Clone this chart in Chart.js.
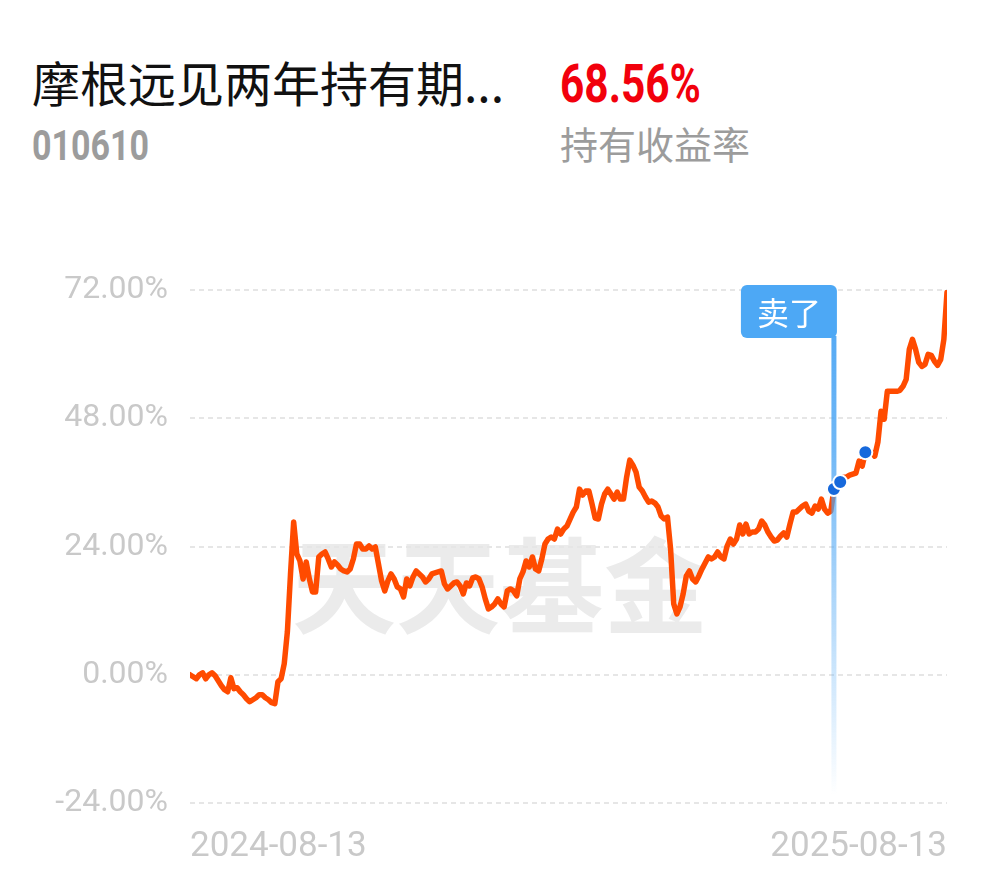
<!DOCTYPE html>
<html>
<head>
<meta charset="utf-8">
<script src="https://cdn.jsdelivr.net/npm/chart.js@4.4.1/dist/chart.umd.min.js"></script>
<style>
  body { margin: 0; background: #fff; width: 990px; height: 878px; overflow: hidden; position: relative; }
  .t { position: absolute; white-space: nowrap; }
  #name { left: 32px; top: 57px; font: 48px/48px "Noto Sans CJK SC"; color: #111; }
  #rate { left: 560px; top: 58px; font: bold 53px/53px Roboto; color: #f2000c; transform: scaleX(0.8); transform-origin: left top; }
  #code { left: 32px; top: 125px; font: bold 42px/42px Roboto; color: #9c9c9c; transform: scaleX(0.81); transform-origin: left top; }
  #rateLabel { left: 560px; top: 124px; font: 38px/38px "Noto Sans CJK SC"; color: #9c9c9c; }
  #chart { position: absolute; left: 0; top: 0; }
</style>
</head>
<body>
<div class="t" id="name">摩根远见两年持有期...</div>
<div class="t" id="rate">68.56%</div>
<div class="t" id="code">010610</div>
<div class="t" id="rateLabel">持有收益率</div>
<canvas id="chart" width="990" height="878"></canvas>
<script>
// holding return (%) per trading day, 2024-08-13 .. 2025-08
const returns = [
  0, -0.37, -0.75, 0, 0.37, -0.75, 0, 0.37, -0.19, -1.12,
  -2.05, -2.8, -3.18, -0.56, -2.61, -2.43, -3.18, -3.74, -4.48, -5.04,
  -4.67, -4.3, -3.74, -3.74, -4.3, -4.67, -5.23, -5.42, -1.31, -0.75,
  2.05, 8.03, 18.86, 28.58, 22.6, 21.29, 17.93, 21.11, 17.93, 15.5,
  15.5, 22.04, 22.6, 22.97, 21.67, 20.17, 21.11, 20.55, 19.8, 19.42,
  19.24, 19.8, 21.67, 24.47, 24.47, 23.53, 23.53, 24.09, 23.53, 23.91,
  20.73, 17.56, 15.69, 17.56, 18.86, 17.93, 16.44, 16.06, 14.57, 17.93,
  16.62, 18.3, 19.42, 18.86, 18.3, 17.37, 17.93, 18.86, 19.05, 19.24,
  19.42, 17.0, 16.06, 16.62, 17.18, 17.37, 16.62, 15.13, 17.18, 16.62,
  18.12, 18.3, 17.93, 16.44, 14.2, 12.33, 12.7, 13.26, 14.2, 13.26,
  12.7, 15.69, 16.06, 15.69, 14.76, 17.93, 19.24, 21.29, 20.17, 22.04,
  19.8, 19.42, 21.67, 24.47, 25.4, 25.78, 25.4, 27.27, 26.34, 27.27,
  27.83, 29.14, 30.44, 31.38, 34.74, 33.62, 34.37, 34.37, 31.94, 29.32,
  29.14, 31.94, 33.81, 34.74, 33.81, 32.87, 34.18, 32.87, 32.87, 36.98,
  40.16, 39.22, 37.92, 35.11, 34.37, 33.25, 32.31, 32.5, 32.13, 31.38,
  29.7, 29.14, 29.51, 23.53, 13.26, 11.39, 12.7, 15.13, 18.49, 19.42,
  17.93, 17.37, 18.49, 19.8, 20.92, 22.04, 21.67, 22.04, 22.97, 22.04,
  21.67, 24.09, 25.4, 24.47, 25.4, 28.02, 26.34, 28.2, 26.34, 26.71,
  26.71, 27.27, 28.76, 28.02, 26.71, 25.78, 25.03, 25.21, 25.96, 26.52,
  25.78, 28.2, 30.44, 30.44, 31.0, 31.57, 31.94, 30.63, 30.26, 31.57,
  31.0, 32.87, 31.0, 30.26, 30.63, 34.74, 35.49, 36.05, 36.98, 36.98,
  37.35, 37.54, 37.73, 39.97, 39.04, 41.65, 41.65, 41.65, 40.9, 43.52,
  49.31, 47.81, 53.04, 53.04, 53.04, 53.04, 53.23, 53.98, 55.29, 60.89,
  62.76, 60.89, 58.46, 57.71, 58.09, 59.95, 59.77, 58.65, 57.9, 59.02,
  62.76, 71.54
];
const xLabels = ["2024-08-13", "2025-08-13"];
const yTicks = [-24, 0, 24, 48, 72];
const tradeDays = [205, 207, 215];   // blue trade dots
const sellDay = 205;
const sellText = "卖了";
const watermark = "天天基金";

const lineColor = "#ff4b00";
const tickColor = "#c9c9c9";

const watermarkPlugin = {
  id: "watermark",
  beforeDraw(chart) {
    const { ctx } = chart;
    ctx.save();
    ctx.font = 'bold 104px "Noto Sans CJK SC"';
    ctx.fillStyle = "#ebebeb";
    ctx.textAlign = "center";
    ctx.textBaseline = "middle";
    ctx.fillText(watermark, 500, 586);
    ctx.restore();
  },
};

const sellMarker = {
  id: "sellMarker",
  afterDatasetDraw(chart, args) {
    if (args.index !== 0) return;
    const { ctx, chartArea, scales } = chart;
    const px = scales.x.getPixelForValue(sellDay);
    const boxW = 96, boxH = 53;
    const top = chartArea.top - 5;
    const lineTop = top + boxH - 2;
    const lineBottom = chartArea.bottom - 8;
    ctx.save();
    const g = ctx.createLinearGradient(0, lineTop, 0, lineBottom);
    g.addColorStop(0, "rgba(77,166,244,0.95)");
    g.addColorStop(0.25, "rgba(77,166,244,0.8)");
    g.addColorStop(1, "rgba(77,166,244,0)");
    ctx.fillStyle = g;
    ctx.fillRect(px - 2.5, lineTop, 5, lineBottom - lineTop);
    ctx.fillStyle = "#4da8f5";
    ctx.beginPath();
    ctx.roundRect(px + 3 - boxW, top, boxW, boxH, 6);
    ctx.fill();
    ctx.fillStyle = "#fff";
    ctx.font = '32px "Noto Sans CJK SC"';
    ctx.textAlign = "center";
    ctx.textBaseline = "middle";
    ctx.fillText(sellText, px + 3 - boxW / 2, top + boxH / 2 + 1);
    ctx.restore();
  },
};

new Chart(document.getElementById("chart"), {
  type: "line",
  data: {
    datasets: [
      {
        data: returns.map((v, i) => ({ x: i, y: v })),
        borderColor: lineColor,
        borderWidth: 5.5,
        pointRadius: 0,
        tension: 0,
        borderJoinStyle: "round",
        borderCapStyle: "round",
        order: 2,
      },
      {
        data: tradeDays.map((d) => ({ x: d, y: returns[d] })),
        showLine: false,
        pointRadius: 7,
        pointBorderWidth: 2,
        pointBackgroundColor: "#1769dc",
        pointBorderColor: "#fff",
        order: 1,
      },
    ],
  },
  options: {
    responsive: false,
    animation: false,
    layout: { padding: { top: 290, right: 43, bottom: 0, left: 0 } },
    plugins: { legend: { display: false }, tooltip: { enabled: false } },
    scales: {
      x: {
        type: "linear",
        min: 0,
        max: returns.length - 1,
        afterBuildTicks: (s) => { s.ticks = [{ value: 0 }, { value: returns.length - 1 }]; },
        afterFit: (s) => { s.height = 75; },
        grid: { display: false },
        border: { display: false },
        ticks: {
          autoSkip: false,
          maxRotation: 0,
          align: "inner",
          padding: 15,
          color: tickColor,
          font: { family: "Roboto", size: 35 },
          callback: (v, i) => xLabels[i],
        },
      },
      y: {
        min: -24,
        max: 72,
        afterBuildTicks: (s) => { s.ticks = yTicks.map((v) => ({ value: v })); },
        afterFit: (s) => { s.width = 190; },
        grid: { color: "#e6e6e6", lineWidth: 2, drawTicks: false },
        border: { display: false, dash: [5, 4] },
        ticks: {
          padding: 22,
          color: tickColor,
          font: { family: "Roboto", size: 32 },
          callback: (v) => v.toFixed(2) + "%",
        },
      },
    },
  },
  plugins: [watermarkPlugin, sellMarker],
});
</script>
</body>
</html>
